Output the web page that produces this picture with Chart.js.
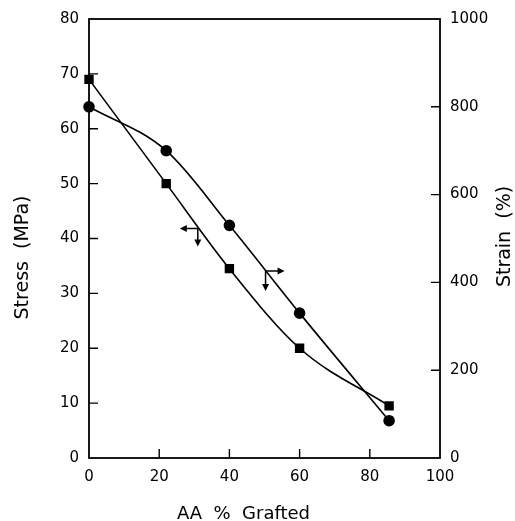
<!DOCTYPE html>
<html>
<head>
<meta charset="utf-8">
<script src="https://cdn.jsdelivr.net/npm/chart.js@4/dist/chart.umd.min.js"></script>
<style>
  html, body { margin: 0; padding: 0; background: #fff; }
  #wrap { width: 515px; height: 521px; position: relative; }
</style>
</head>
<body>
<div id="wrap"><canvas id="chart"></canvas></div>
<script>
// AA grafting level (%) and the measured tensile properties
const graftPct  = [0, 22, 40, 60, 85.5];
const stressMPa = [69, 50, 34.5, 20, 9.5];   // left axis, squares
const strainPct = [800, 700, 530, 330, 85];  // right axis, circles

const xTicks      = [0, 20, 40, 60, 80, 100];
const stressTicks = [0, 10, 20, 30, 40, 50, 60, 70, 80];
const strainTicks = [0, 200, 400, 600, 800, 1000];

const INK = '#000';
const FAMILY = '"DejaVu Sans", sans-serif';
const tickFont = { family: FAMILY, size: 15 };

const toPoints = (xs, ys) => xs.map((x, i) => ({ x, y: ys[i] }));

// Frame around the plot area plus inward-pointing tick marks
const frameAndTicks = {
  id: 'frameAndTicks',
  afterDraw(chart) {
    const { ctx, chartArea: a, scales } = chart;
    ctx.save();
    ctx.strokeStyle = INK;
    ctx.lineWidth = 1.8;
    ctx.strokeRect(a.left, a.top, a.right - a.left, a.bottom - a.top);
    ctx.lineWidth = 1.4;
    ctx.beginPath();
    scales.x.ticks.forEach(t => {
      if (t.value <= scales.x.min || t.value >= scales.x.max) return;
      const p = scales.x.getPixelForValue(t.value);
      const len = t.value % 20 === 0 ? 9 : 5;
      ctx.moveTo(p, a.bottom); ctx.lineTo(p, a.bottom - len);
    });
    scales.y.ticks.forEach(t => {
      if (t.value <= scales.y.min || t.value >= scales.y.max) return;
      const p = scales.y.getPixelForValue(t.value);
      const len = t.value % 10 === 0 ? 9 : 6;
      ctx.moveTo(a.left, p); ctx.lineTo(a.left + len, p);
    });
    scales.y1.ticks.forEach(t => {
      if (t.value <= scales.y1.min || t.value >= scales.y1.max) return;
      const p = scales.y1.getPixelForValue(t.value);
      const len = t.value % 200 === 0 ? 9 : 7;
      ctx.moveTo(a.right, p); ctx.lineTo(a.right - len, p);
    });
    ctx.stroke();
    ctx.restore();
  }
};

// Axis titles; both vertical ones read bottom-to-top
const axisTitles = {
  id: 'axisTitles',
  afterDraw(chart, args, opts) {
    const { ctx, chartArea: a } = chart;
    const midX = (a.left + a.right) / 2, midY = (a.top + a.bottom) / 2;
    ctx.save();
    ctx.fillStyle = INK;
    ctx.textAlign = 'center';
    ctx.textBaseline = 'middle';
    opts.titles.forEach(t => {
      ctx.save();
      ctx.font = `${t.size}px ${FAMILY}`;
      let x, y;
      if (t.side === 'bottom') { x = midX + t.shift; y = chart.height - t.inset; }
      else if (t.side === 'left') { x = t.inset; y = midY + t.shift; }
      else { x = chart.width - t.inset; y = midY + t.shift; }
      ctx.translate(x, y);
      if (t.side !== 'bottom') ctx.rotate(-Math.PI / 2);
      ctx.fillText(t.text, 0, 0);
      ctx.restore();
    });
    ctx.restore();
  }
};

// Bent arrows telling which axis each curve is read against
const axisArrows = {
  id: 'axisArrows',
  afterDatasetsDraw(chart, args, opts) {
    const { ctx, scales } = chart;
    const head = (x, y, dx, dy) => {
      const L = 7, W = 3.5;
      const px = -dy, py = dx;
      ctx.beginPath();
      ctx.moveTo(x, y);
      ctx.lineTo(x - dx * L + px * W, y - dy * L + py * W);
      ctx.lineTo(x - dx * L - px * W, y - dy * L - py * W);
      ctx.closePath();
      ctx.fill();
    };
    ctx.save();
    ctx.strokeStyle = INK;
    ctx.fillStyle = INK;
    ctx.lineWidth = 1.5;
    opts.arrows.forEach(ar => {
      const cx = scales.x.getPixelForValue(ar.x);
      const cy = scales[ar.axis].getPixelForValue(ar.y);
      const hx = cx + ar.dir * ar.hLen;
      const vy = cy + ar.vLen;
      ctx.beginPath();
      ctx.moveTo(hx - ar.dir * 5, cy); ctx.lineTo(cx, cy); ctx.lineTo(cx, vy - 5);
      ctx.stroke();
      head(hx, cy, ar.dir, 0);
      head(cx, vy, 0, 1);
    });
    ctx.restore();
  }
};

new Chart(document.getElementById('chart'), {
  type: 'line',
  data: {
    datasets: [
      {
        label: 'Stress (MPa)',
        data: toPoints(graftPct, stressMPa),
        yAxisID: 'y',
        borderColor: INK,
        backgroundColor: INK,
        borderWidth: 1.6,
        pointStyle: 'rect',
        pointRadius: 5.5,
        pointHoverRadius: 5.5,
        cubicInterpolationMode: 'monotone',
        fill: false,
        clip: false
      },
      {
        label: 'Strain (%)',
        data: toPoints(graftPct, strainPct),
        yAxisID: 'y1',
        borderColor: INK,
        backgroundColor: INK,
        borderWidth: 1.6,
        pointStyle: 'circle',
        pointRadius: 5,
        pointHoverRadius: 5,
        cubicInterpolationMode: 'monotone',
        fill: false,
        clip: false
      }
    ]
  },
  options: {
    responsive: true,
    maintainAspectRatio: false,
    animation: false,
    events: [],
    layout: { padding: { top: 18, left: 0, right: 0, bottom: 0 } },
    plugins: {
      legend: { display: false },
      tooltip: { enabled: false },
      axisTitles: {
        titles: [
          { side: 'bottom', text: 'AA  %  Grafted', size: 18, inset: 7, shift: -21 },
          { side: 'left',   text: 'Stress  (MPa)',  size: 19, inset: 23, shift: 19 },
          { side: 'right',  text: 'Strain  (%)',    size: 19, inset: 10, shift: -2 }
        ]
      },
      axisArrows: {
        arrows: [
          { axis: 'y',  x: 31,   y: 41.8, dir: -1, hLen: 18, vLen: 18 },
          { axis: 'y1', x: 50.3, y: 426,  dir:  1, hLen: 19, vLen: 20 }
        ]
      }
    },
    scales: {
      x: {
        type: 'linear',
        min: 0, max: 100,
        afterBuildTicks: s => { s.ticks = Array.from({ length: 11 }, (_, i) => ({ value: i * 10 })); },
        afterFit: s => { s.height = 63; },
        grid: { display: false, drawTicks: false },
        border: { display: false },
        ticks: {
          color: INK, font: tickFont, padding: 10, maxRotation: 0, autoSkip: false,
          callback: v => xTicks.includes(v) ? String(v) : null
        },
        title: { display: false }
      },
      y: {
        type: 'linear',
        position: 'left',
        min: 0, max: 80,
        afterBuildTicks: s => { s.ticks = Array.from({ length: 17 }, (_, i) => ({ value: i * 5 })); },
        afterFit: s => { s.width = 89; },
        grid: { display: false, drawTicks: false },
        border: { display: false },
        ticks: {
          color: INK, font: tickFont, padding: 10, autoSkip: false,
          callback: v => stressTicks.includes(v) ? String(v) : null
        },
        title: { display: false }
      },
      y1: {
        type: 'linear',
        position: 'right',
        min: 0, max: 1000,
        afterBuildTicks: s => { s.ticks = Array.from({ length: 11 }, (_, i) => ({ value: i * 100 })); },
        afterFit: s => { s.width = 75; },
        grid: { display: false, drawTicks: false },
        border: { display: false },
        ticks: {
          color: INK, font: tickFont, padding: 10, autoSkip: false,
          callback: v => strainTicks.includes(v) ? String(v) : null
        },
        title: { display: false }
      }
    }
  },
  plugins: [frameAndTicks, axisTitles, axisArrows]
});
</script>
</body>
</html>
